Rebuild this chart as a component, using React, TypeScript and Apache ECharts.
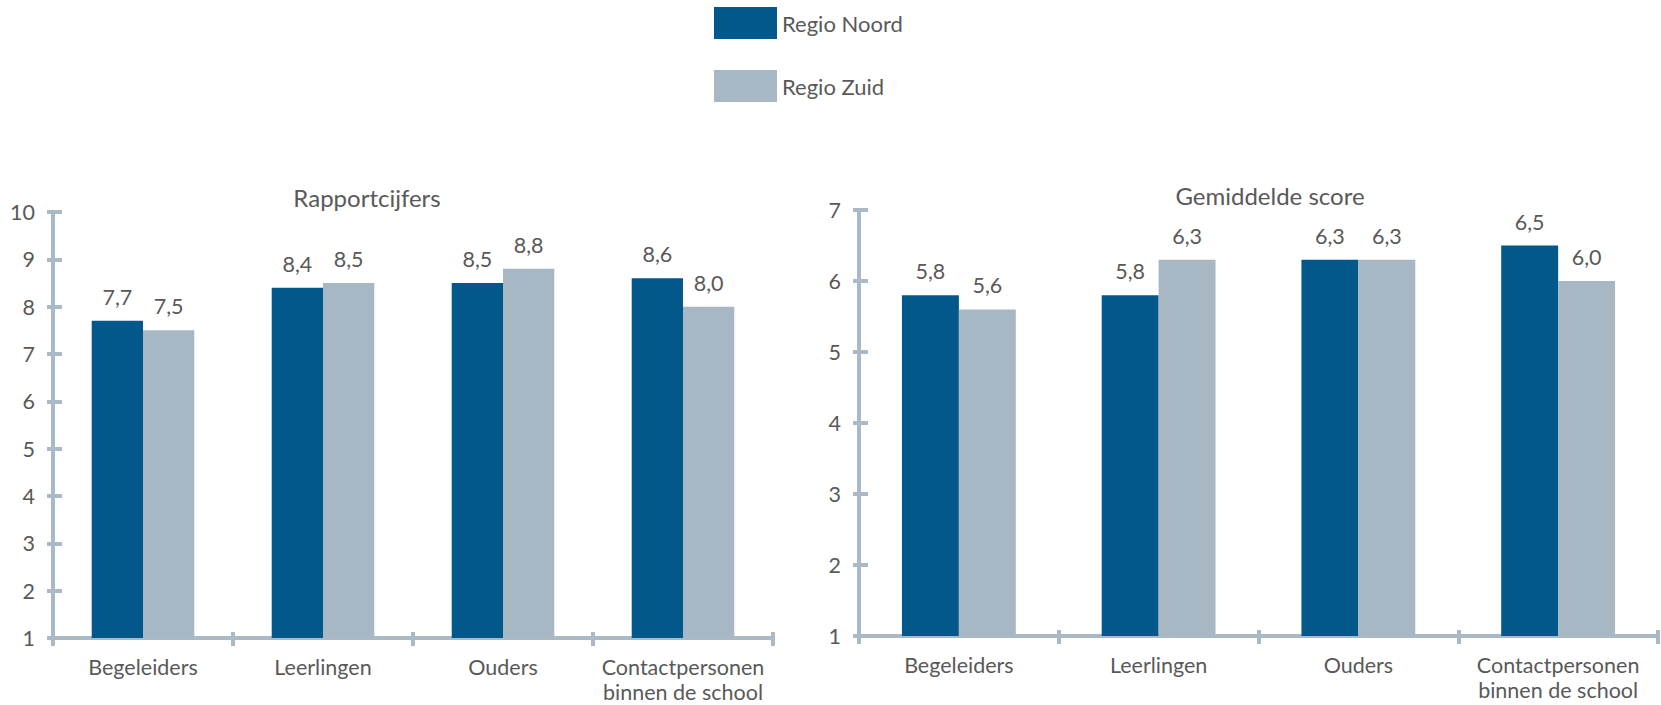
import React, { useEffect, useRef } from "react";
import * as echarts from "echarts";

const categories = ["Begeleiders", "Leerlingen", "Ouders", "Contactpersonen\nbinnen de school"];
const seriesNames = ["Regio Noord", "Regio Zuid"];
const rapportNoord = [7.7, 8.4, 8.5, 8.6];
const rapportZuid = [7.5, 8.5, 8.8, 8.0];
const scoreNoord = [5.8, 5.8, 6.3, 6.5];
const scoreZuid = [5.6, 6.3, 6.3, 6.0];
const titles = ["Rapportcijfers", "Gemiddelde score"];

const DARK = "#02588B";
const LIGHT = "#A7B8C4";
const AXIS = "#A9BAC6";
const TEXT = "#595959";
const FONT = "Lato";

export default function App() {
  const ref = useRef<HTMLDivElement>(null);
  useEffect(() => {
    if (!ref.current) return;
    const chart = echarts.init(ref.current, undefined, { renderer: "svg" });
    const grids = [
      { left: 53, top: 212, width: 720, height: 426 },
      { left: 859, top: 210, width: 799, height: 426 },
    ];
    const fmt = (p: any) => Number(p.value).toFixed(1).replace(".", ",");
    const mainX = (gi: number) => ({
      type: "category",
      gridIndex: gi,
      data: categories,
      axisLine: { show: true, lineStyle: { color: AXIS, width: 4 } },
      axisTick: { show: true, alignWithLabel: false, length: 8, lineStyle: { color: AXIS, width: 4 } },
      axisLabel: { interval: 0, color: TEXT, fontFamily: FONT, fontSize: 21.5, margin: 16, lineHeight: 25 },
    });
    const tickX = (gi: number) => ({
      type: "category",
      gridIndex: gi,
      data: categories,
      position: "bottom",
      axisLine: { show: false },
      axisTick: { show: true, inside: true, length: 6, lineStyle: { color: AXIS, width: 4 } },
      axisLabel: { show: false },
    });
    const mainY = (gi: number, max: number) => ({
      type: "value",
      gridIndex: gi,
      min: 1,
      max,
      interval: 1,
      splitLine: { show: false },
      axisLine: { show: true, lineStyle: { color: AXIS, width: 4 } },
      axisTick: { show: true, length: 6, lineStyle: { color: AXIS, width: 4 } },
      axisLabel: { color: TEXT, fontFamily: FONT, fontSize: 21.5, margin: 18 },
    });
    const tickY = (gi: number, max: number) => ({
      type: "value",
      gridIndex: gi,
      min: 1,
      max,
      interval: 1,
      position: "left",
      splitLine: { show: false },
      axisLine: { show: false },
      axisTick: { show: true, inside: true, length: 9, lineStyle: { color: AXIS, width: 4 } },
      axisLabel: { show: false },
    });
    const bar = (name: string, data: number[], color: string, xi: number, yi: number) => ({
      type: "bar",
      name,
      data,
      xAxisIndex: xi,
      yAxisIndex: yi,
      barGap: "0%",
      barCategoryGap: "43%",
      itemStyle: { color },
      label: {
        show: true,
        position: "top",
        distance: 13,
        color: TEXT,
        fontFamily: FONT,
        fontSize: 21.5,
        formatter: fmt,
      },
    });
    chart.setOption({
      animation: false,
      textStyle: { fontFamily: FONT },
      legend: {
        data: seriesNames,
        orient: "vertical",
        left: 714,
        top: 7,
        itemWidth: 63,
        itemHeight: 32,
        itemGap: 31,
        icon: "rect",
        textStyle: { color: TEXT, fontFamily: FONT, fontSize: 22, padding: [0, 0, 0, 0] },
        padding: 0,
      },
      graphic: [
        {
          type: "text",
          x: 367,
          y: 197,
          style: { text: titles[0], fill: TEXT, fontFamily: FONT, fontSize: 24, align: "center", verticalAlign: "middle", textAlign: "center", textVerticalAlign: "middle" },
        },
        {
          type: "text",
          x: 1270,
          y: 195,
          style: { text: titles[1], fill: TEXT, fontFamily: FONT, fontSize: 24, align: "center", verticalAlign: "middle", textAlign: "center", textVerticalAlign: "middle" },
        },
      ],
      grid: grids,
      xAxis: [mainX(0), tickX(0), mainX(1), tickX(1)],
      yAxis: [mainY(0, 10), tickY(0, 10), mainY(1, 7), tickY(1, 7)],
      series: [
        bar(seriesNames[0], rapportNoord, DARK, 0, 0),
        bar(seriesNames[1], rapportZuid, LIGHT, 0, 0),
        bar(seriesNames[0], scoreNoord, DARK, 2, 2),
        bar(seriesNames[1], scoreZuid, LIGHT, 2, 2),
      ],
    });
    return () => chart.dispose();
  }, []);
  return (
    <div
      ref={ref}
      style={{ position: "absolute", left: 0, top: 0, width: 1661, height: 705, background: "#fff" }}
    />
  );
}
